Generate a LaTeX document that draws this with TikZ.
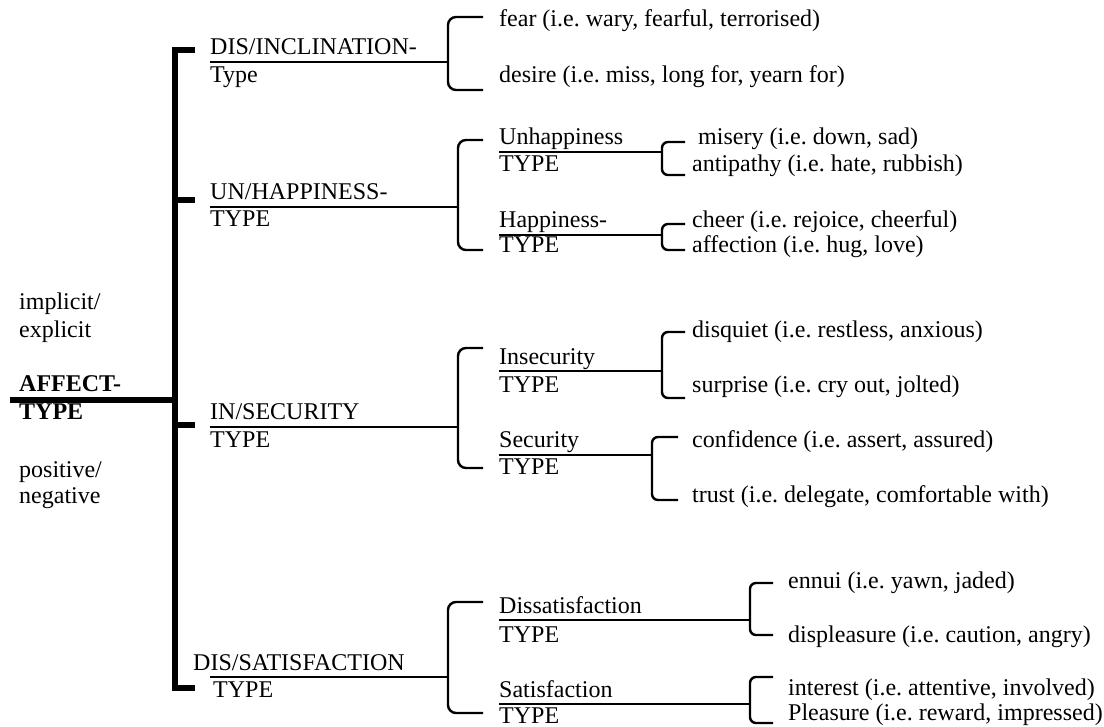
\documentclass[tikz,border=0pt]{standalone}
\usepackage{fontspec}
\setmainfont{Liberation Serif}
\frenchspacing
\begin{document}
\begin{tikzpicture}[x=1pt,y=-1pt,
  lbl/.style={inner sep=0pt, anchor=base west, font=\fontsize{24}{28}\selectfont},
  bold lbl/.style={lbl, font=\fontsize{24}{28}\selectfont\bfseries},
  uline/.style={line width=2pt},
  brk/.style={line width=2.4pt, rounded corners=8pt},
  sbrk/.style={line width=2.4pt, rounded corners=6pt},
  mainline/.style={line width=6.5pt, miter limit=10}]
\useasboundingbox (0,0) rectangle (1104,727);

% left labels
\node[lbl] (impl) at (19,310) {implicit/};
\node[lbl] (expl) at (19,338) {explicit};
\node[bold lbl] (aff1) at (19,392) {AFFECT-};
\node[bold lbl] (aff2) at (19,420) {TYPE};
\node[lbl] (pos) at (19,478) {positive/};
\node[lbl] (neg) at (19,503) {negative};

% main spine
\coordinate (a0) at (10,400);
\coordinate (a1) at (175,400);
\coordinate (t1) at (195,50);
\coordinate (t1c) at (175,50);
\coordinate (t4c) at (175,688);
\coordinate (t4) at (195,688);
\coordinate (t2c) at (175,200);
\coordinate (t2) at (195,200);
\coordinate (t3c) at (175,425);
\coordinate (t3) at (195,425);
\draw[mainline] (t1) -- (t1c) -- (t4c) -- (t4);
\draw[mainline] (a0) -- (a1);
\draw[mainline] (t2c) -- (t2);
\draw[mainline] (t3c) -- (t3);

% level 1 labels
\node[lbl] (di) at (210,55) {DIS/INCLINATION-};
\node[lbl] (dit) at (210,83) {Type};
\node[lbl] (uh) at (210,200) {UN/HAPPINESS-};
\node[lbl] (uht) at (210,227) {TYPE};
\node[lbl] (is) at (210,420) {IN/SECURITY};
\node[lbl] (ist) at (210,448) {TYPE};
\node[lbl] (ds) at (193,670) {DIS/SATISFACTION};
\node[lbl] (dst) at (213,697) {TYPE};

\coordinate (u1a) at (210,62);  \coordinate (u1b) at (448,62);
\coordinate (u2a) at (210,207); \coordinate (u2b) at (458,207);
\coordinate (u3a) at (210,427); \coordinate (u3b) at (458,427);
\coordinate (u4a) at (210,677); \coordinate (u4b) at (448,677);
\draw[uline] (u1a) -- (u1b);
\draw[uline] (u2a) -- (u2b);
\draw[uline] (u3a) -- (u3b);
\draw[uline] (u4a) -- (u4b);

% level 1 brackets
\draw[brk] (483,17) -- (448,17) -- (448,90) -- (483,90);
\draw[brk] (483,140) -- (458,140) -- (458,250) -- (483,250);
\draw[brk] (483,348) -- (458,348) -- (458,468) -- (483,468);
\draw[brk] (483,602) -- (448,602) -- (448,713) -- (483,713);

% DIS/INCLINATION leaves
\node[lbl] (fear) at (499,27) {fear (i.e. wary, fearful, terrorised)};
\node[lbl] (desire) at (499,83) {desire (i.e. miss, long for, yearn for)};

% level 2 labels
\node[lbl] (unh) at (499,145) {Unhappiness};
\node[lbl] (unht) at (499,172) {TYPE};
\node[lbl] (hap) at (499,228) {Happiness-};
\node[lbl] (hapt) at (499,253) {TYPE};
\node[lbl] (ins) at (499,365) {Insecurity};
\node[lbl] (inst) at (499,393) {TYPE};
\node[lbl] (sec) at (499,448) {Security};
\node[lbl] (sect) at (499,475) {TYPE};
\node[lbl] (dis) at (499,613) {Dissatisfaction};
\node[lbl] (dist) at (499,642) {TYPE};
\node[lbl] (sat) at (499,697) {Satisfaction};
\node[lbl] (satt) at (499,723) {TYPE};

\coordinate (v1a) at (499,152); \coordinate (v1b) at (662,152);
\coordinate (v2a) at (499,235); \coordinate (v2b) at (662,235);
\coordinate (v3a) at (499,371); \coordinate (v3b) at (662,371);
\coordinate (v4a) at (499,455); \coordinate (v4b) at (652,455);
\coordinate (v5a) at (499,620); \coordinate (v5b) at (750,620);
\coordinate (v6a) at (499,704); \coordinate (v6b) at (750,704);
\draw[uline] (v1a) -- (v1b);
\draw[uline] (v2a) -- (v2b);
\draw[uline] (v3a) -- (v3b);
\draw[uline] (v4a) -- (v4b);
\draw[uline] (v5a) -- (v5b);
\draw[uline] (v6a) -- (v6b);

% level 2 brackets
\draw[sbrk] (685,142) -- (662,142) -- (662,175) -- (685,175);
\draw[sbrk] (685,224) -- (662,224) -- (662,250) -- (685,250);
\draw[sbrk] (685,332) -- (662,332) -- (662,398) -- (685,398);
\draw[sbrk] (678,437) -- (652,437) -- (652,500) -- (678,500);
\draw[sbrk] (773,583) -- (750,583) -- (750,635) -- (773,635);
\draw[sbrk] (773,677) -- (750,677) -- (750,723) -- (773,723);

% leaves
\node[lbl] (mis) at (698,145) {misery (i.e. down, sad)};
\node[lbl] (ant) at (692,172) {antipathy (i.e. hate, rubbish)};
\node[lbl] (che) at (692,228) {cheer (i.e. rejoice, cheerful)};
\node[lbl] (afc) at (692,253) {affection (i.e. hug, love)};
\node[lbl] (disq) at (692,338) {disquiet (i.e. restless, anxious)};
\node[lbl] (sur) at (692,393) {surprise (i.e. cry out, jolted)};
\node[lbl] (con) at (692,448) {confidence (i.e. assert, assured)};
\node[lbl] (tru) at (692,502) {trust (i.e. delegate, comfortable with)};
\node[lbl] (enn) at (788,588) {ennui (i.e. yawn, jaded)};
\node[lbl] (dsp) at (788,642) {displeasure (i.e. caution, angry)};
\node[lbl] (int) at (788,695) {interest (i.e. attentive, involved)};
\node[lbl] (ple) at (788,720) {Pleasure (i.e. reward, impressed)};
\end{tikzpicture}
\end{document}
